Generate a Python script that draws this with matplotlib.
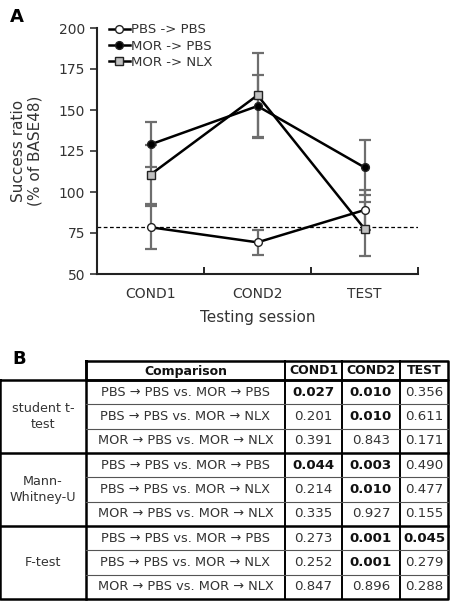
import matplotlib
matplotlib.use("Agg")
import matplotlib.pyplot as plt
import numpy as np

sessions = ["COND1", "COND2", "TEST"]
pbs_pbs = [78.5, 69.3, 89.0]
pbs_pbs_err = [13.0, 7.5, 12.2]
mor_pbs = [129.0, 152.4, 115.0]
mor_pbs_err = [13.5, 18.7, 17.0]
mor_nlx = [110.6, 159.0, 77.6]
mor_nlx_err = [18.0, 26.0, 16.6]
baseline = 78.5

header = ["Comparison", "COND1", "COND2", "TEST"]
tests = ["student t-\ntest", "Mann-\nWhitney-U", "F-test"]
comparisons = ["PBS \u2192 PBS vs. MOR \u2192 PBS",
               "PBS \u2192 PBS vs. MOR \u2192 NLX",
               "MOR \u2192 PBS vs. MOR \u2192 NLX"]
pvalues = [
    [0.027, 0.010, 0.356],
    [0.201, 0.010, 0.611],
    [0.391, 0.843, 0.171],
    [0.044, 0.003, 0.490],
    [0.214, 0.010, 0.477],
    [0.335, 0.927, 0.155],
    [0.273, 0.001, 0.045],
    [0.252, 0.001, 0.279],
    [0.847, 0.896, 0.288],
]

plt.rcParams['font.family'] = ['DejaVu Sans']
W, H = 458, 601
fig = plt.figure(figsize=(W / 100, H / 100), dpi=100)

# ---------- Panel A ----------
x0, x1, ytop, ybot = 97, 418, 28, 274
ax = fig.add_axes([x0 / W, 1 - ybot / H, (x1 - x0) / W, (ybot - ytop) / H])
xs = np.arange(len(sessions)) + 0.5
ecol = '#6e6e6e'
ax.axhline(baseline, color='black', lw=0.9, ls=(0, (3, 2)), zorder=1)
series = [
    (pbs_pbs, pbs_pbs_err, 'o', 'white', 5.6, "PBS -> PBS"),
    (mor_pbs, mor_pbs_err, 'o', 'black', 5.6, "MOR -> PBS"),
    (mor_nlx, mor_nlx_err, 's', '#c0c0c0', 5.9, "MOR -> NLX"),
]
handles = []
for vals, errs, m, fc, ms, lab in series:
    ax.errorbar(xs, vals, yerr=errs, fmt='none', ecolor=ecol, elinewidth=1.6,
                capsize=4, capthick=1.6, zorder=2)
for vals, errs, m, fc, ms, lab in series:
    h, = ax.plot(xs, vals, color='black', lw=1.8, marker=m, markersize=ms,
                 markerfacecolor=fc, markeredgecolor='#222222', markeredgewidth=1.0,
                 zorder=3, label=lab)
    handles.append(h)
ax.set_xlim(0, 3)
ax.set_ylim(50, 200)
ax.set_yticks([50, 75, 100, 125, 150, 175, 200])
ax.set_xticks([0, 1, 2, 3], minor=False)
ax.set_xticklabels([])
ax.set_xticks(xs, minor=True)
ax.set_xticklabels(sessions, minor=True)
ax.tick_params(axis='x', which='minor', length=0, labelsize=10, pad=9, colors='#333333')
ax.tick_params(axis='x', which='major', length=5, direction='in', width=1.2)
ax.tick_params(axis='y', length=5, direction='out', width=1.2, labelsize=10,
               colors='#333333')
for s in ['top', 'right']:
    ax.spines[s].set_visible(False)
for s in ['left', 'bottom']:
    ax.spines[s].set_linewidth(1.5)
    ax.spines[s].set_color('#222222')
ax.set_ylabel("Success ratio\n(% of BASE48)", fontsize=11, color='#333333',
              labelpad=12, linespacing=1.1)
ax.set_xlabel("Testing session", fontsize=11, color='#333333', labelpad=7)
leg = ax.legend(handles=handles, loc='upper left', bbox_to_anchor=(0.02, 1.04),
                frameon=False, fontsize=9.5, handlelength=1.6, handletextpad=0.1,
                labelspacing=0.25, borderaxespad=0.0)
for t in leg.get_texts():
    t.set_color('#333333')
fig.text(10 / W, 1 - 8 / H, "A", fontsize=13, fontweight='bold', va='top', ha='left')

# ---------- Panel B (table) ----------
tb = fig.add_axes([0, 0, 1, 1])
tb.set_xlim(0, W)
tb.set_ylim(H, 0)
tb.axis('off')
fig.text(12 / W, 1 - 350 / H, "B", fontsize=13, fontweight='bold', va='top', ha='left')

cx = [0, 86, 285, 342, 400, 448]
hy0, hy1 = 361, 380
bottom = 599
rows = len(pvalues)
rh = (bottom - hy1) / rows
thick = 1.8
thin = 0.8
tc = '#333333'

tb.plot([cx[1], cx[5], cx[5], cx[1], cx[1]], [hy0, hy0, hy1, hy1, hy0],
        color='black', lw=thick)
tb.plot([cx[0], cx[5], cx[5], cx[0], cx[0]], [hy1, hy1, bottom, bottom, hy1],
        color='black', lw=thick)
for c in cx[1:5]:
    tb.plot([c, c], [hy0, bottom], color='black', lw=thick if c == cx[1] else 1.4)
for r in range(1, rows):
    y = hy1 + r * rh
    if r % 3 == 0:
        tb.plot([cx[0], cx[5]], [y, y], color='black', lw=thick)
    else:
        tb.plot([cx[1], cx[5]], [y, y], color='#555555', lw=thin)

for j, h in enumerate(header):
    tb.text((cx[j + 1] + cx[j + 2]) / 2, (hy0 + hy1) / 2 + 0.5, h, ha='center',
            va='center', fontsize=9, fontweight='bold', color='#111111')
for g, name in enumerate(tests):
    yc = hy1 + (g * 3 + 1.5) * rh
    tb.text((cx[0] + cx[1]) / 2, yc, name, ha='center', va='center', fontsize=9.2,
            color=tc, linespacing=1.25)
for r in range(rows):
    yc = hy1 + (r + 0.5) * rh
    tb.text((cx[1] + cx[2]) / 2, yc, comparisons[r % 3], ha='center', va='center',
            fontsize=9.3, color=tc)
    for j, v in enumerate(pvalues[r]):
        bold = v < 0.05
        tb.text((cx[j + 2] + cx[j + 3]) / 2, yc, f"{v:.3f}", ha='center', va='center',
                fontsize=9.6, color='#111111' if bold else tc,
                fontweight='bold' if bold else 'normal')

fig.savefig("out.png", dpi=100)
